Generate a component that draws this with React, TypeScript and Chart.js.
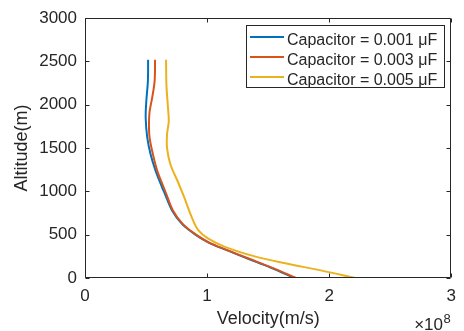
import React, { useEffect, useRef } from 'react';
import { Chart, registerables } from 'chart.js';

Chart.register(...registerables);

const FONT = '"Liberation Sans", Arial, Helvetica, sans-serif';
const AXIS_COLOR = '#262626';

const seriesLabels = ['Capacitor = 0.001 μF', 'Capacitor = 0.003 μF', 'Capacitor = 0.005 μF'];
const seriesColors = ['#0072BD', '#D95319', '#EDB120'];

// Velocity in units of 1e8 m/s, altitude in m
const altitude1 = [2520, 2270, 2040, 1850, 1620, 1430, 1240, 1045, 970, 780, 625, 510, 415, 330, 225, 120, 0];
const velocity1 = [0.517, 0.515, 0.502, 0.497, 0.51, 0.537, 0.578, 0.632, 0.655, 0.713, 0.794, 0.895, 1.005, 1.145, 1.33, 1.52, 1.715];

const altitude2 = [2520, 2270, 2080, 1920, 1770, 1620, 1430, 1240, 1045, 970, 780, 625, 510, 415, 330, 225, 120, 0];
const velocity2 = [0.574, 0.57, 0.55, 0.529, 0.524, 0.529, 0.556, 0.591, 0.645, 0.666, 0.72, 0.8, 0.9, 1.01, 1.15, 1.34, 1.53, 1.729];

const altitude3 = [2520, 2230, 1960, 1810, 1660, 1500, 1310, 1120, 930, 700, 550, 455, 360, 250, 170, 85, 0];
const velocity3 = [0.664, 0.667, 0.68, 0.686, 0.672, 0.672, 0.7, 0.758, 0.813, 0.875, 0.929, 1.01, 1.146, 1.39, 1.64, 1.94, 2.214];

const xTicks = [0, 1, 2, 3];
const yTicks = [0, 500, 1000, 1500, 2000, 2500, 3000];
const xTitle = 'Velocity(m/s)';
const yTitle = 'Altitude(m)';
const xExponent = '8';

const toPoints = (xs: number[], ys: number[]) => xs.map((v, i) => ({ x: v, y: ys[i] }));

export default function App() {
  const ref = useRef<HTMLCanvasElement | null>(null);

  useEffect(() => {
    const canvas = ref.current;
    if (!canvas) return;

    const matlabPlugin = {
      id: 'matlabDecor',
      afterDatasetsDraw(chart: any) {
        const { ctx, chartArea, scales } = chart;
        const { left, right, top, bottom } = chartArea;
        const L = Math.round(left) + 0.5;
        const R = Math.round(right) - 0.5;
        const T = Math.round(top) + 0.5;
        const B = Math.round(bottom) - 0.5;
        ctx.save();
        ctx.strokeStyle = AXIS_COLOR;
        ctx.lineWidth = 1;
        ctx.beginPath();
        ctx.rect(L, T, R - L, B - T);
        const tl = 4;
        xTicks.forEach((v) => {
          const px = Math.round(scales.x.getPixelForValue(v)) + 0.5;
          ctx.moveTo(px, B);
          ctx.lineTo(px, B - tl);
          ctx.moveTo(px, T);
          ctx.lineTo(px, T + tl);
        });
        yTicks.forEach((v) => {
          const py = Math.round(scales.y.getPixelForValue(v)) + 0.5;
          ctx.moveTo(L, py);
          ctx.lineTo(L + tl, py);
          ctx.moveTo(R, py);
          ctx.lineTo(R - tl, py);
        });
        ctx.stroke();

        // exponent label
        ctx.fillStyle = AXIS_COLOR;
        ctx.textBaseline = 'alphabetic';
        ctx.textAlign = 'right';
        ctx.font = `17px ${FONT}`;
        ctx.fillText('×10', 443, 330);
        ctx.textAlign = 'left';
        ctx.font = `13px ${FONT}`;
        ctx.fillText(xExponent, 443.5, 322.5);

        // legend
        const bx = 246.5, by = 25.5, bw = 198, bh = 62;
        ctx.fillStyle = '#ffffff';
        ctx.fillRect(bx, by, bw, bh);
        ctx.strokeStyle = AXIS_COLOR;
        ctx.lineWidth = 1;
        ctx.strokeRect(bx, by, bw, bh);
        ctx.font = `16px ${FONT}`;
        ctx.textAlign = 'left';
        ctx.textBaseline = 'alphabetic';
        seriesLabels.forEach((label, i) => {
          const ly = 37 + i * 20;
          ctx.strokeStyle = seriesColors[i];
          ctx.lineWidth = 2;
          ctx.beginPath();
          ctx.moveTo(250, ly);
          ctx.lineTo(284, ly);
          ctx.stroke();
          ctx.fillStyle = AXIS_COLOR;
          ctx.fillText(label, 287, ly + 7.5);
        });
        ctx.restore();
      },
    };

    const seriesX = [velocity1, velocity2, velocity3];
    const seriesY = [altitude1, altitude2, altitude3];

    const chart = new Chart(canvas, {
      type: 'scatter',
      data: {
        datasets: seriesLabels.map((label, i) => ({
          label,
          data: toPoints(seriesX[i], seriesY[i]),
          showLine: true,
          borderColor: seriesColors[i],
          backgroundColor: seriesColors[i],
          borderWidth: 2,
          pointRadius: 0,
          pointHoverRadius: 0,
          tension: 0.35,
          order: 3 - i,
        })),
      },
      options: {
        animation: false,
        responsive: false,
        devicePixelRatio: 1,
        events: [],
        layout: { padding: { top: 16, right: 9, left: 0, bottom: 0 } },
        plugins: {
          legend: { display: false },
          tooltip: { enabled: false },
        },
        scales: {
          x: {
            type: 'linear',
            min: 0,
            max: 3,
            afterBuildTicks: (scale: any) => {
              scale.ticks = xTicks.map((v) => ({ value: v }));
            },
            afterFit: (scale: any) => {
              scale.height = 53;
            },
            grid: { display: false, drawTicks: false },
            border: { display: false },
            ticks: {
              color: AXIS_COLOR,
              font: { family: FONT, size: 17 },
              padding: 8,
              maxRotation: 0,
              callback: (v: any) => String(v),
            },
            title: {
              display: true,
              text: xTitle,
              color: AXIS_COLOR,
              font: { family: FONT, size: 18 },
              padding: { top: 0, bottom: 0.8 },
            },
          },
          y: {
            type: 'linear',
            min: 0,
            max: 3000,
            afterBuildTicks: (scale: any) => {
              scale.ticks = yTicks.map((v) => ({ value: v }));
            },
            afterFit: (scale: any) => {
              scale.width = 85;
            },
            grid: { display: false, drawTicks: false },
            border: { display: false },
            ticks: {
              color: AXIS_COLOR,
              font: { family: FONT, size: 17 },
              padding: 8,
              callback: (v: any) => String(v),
            },
            title: {
              display: true,
              text: yTitle,
              color: AXIS_COLOR,
              font: { family: FONT, size: 18 },
              padding: { top: 11.5, bottom: 0 },
            },
          },
        },
      },
      plugins: [matlabPlugin],
    });

    return () => chart.destroy();
  }, []);

  return (
    <div style={{ position: 'fixed', left: 0, top: 0, width: 464, height: 331, background: '#ffffff' }}>
      <canvas ref={ref} width={464} height={331} style={{ width: 464, height: 331, display: 'block' }} />
    </div>
  );
}
